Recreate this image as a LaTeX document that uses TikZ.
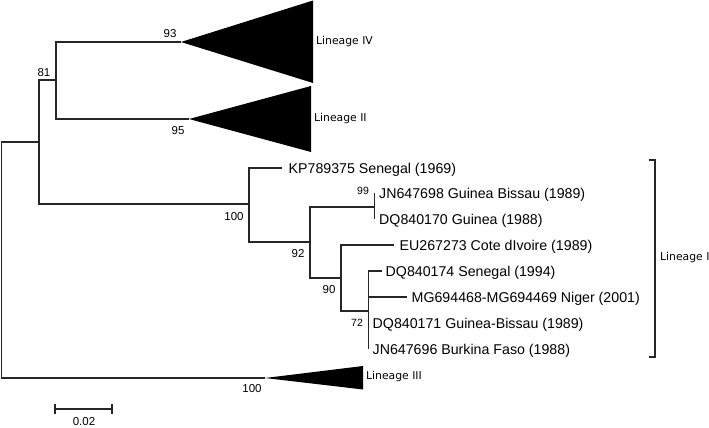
\documentclass[tikz,border=0pt]{standalone}
\usepackage{fontspec}
\setmainfont{Liberation Sans}
\newfontfamily\linfont{DejaVu Sans}
\begin{document}
\begin{tikzpicture}[x=1pt,y=-1pt,
  branch/.style={draw=black!85, line width=1.2pt},
  clade/.style={fill=black},
  leaf/.style={anchor=west, inner sep=0pt, text height=10.2pt, text depth=0pt, font=\fontsize{14.2}{16}\selectfont},
  boot/.style={inner sep=0pt, text height=8.2pt, text depth=0pt, font=\fontsize{11.5}{13}\selectfont},
  bootsm/.style={inner sep=0pt, text height=7.5pt, text depth=0pt, font=\fontsize{10.5}{12}\selectfont},
  lin/.style={anchor=west, inner sep=0pt, font=\linfont\fontsize{10.8}{12}\selectfont}]
\useasboundingbox (0,0) rectangle (709,428);
% internal nodes and tips
\coordinate (root) at (1.5,260);
\coordinate (n81) at (39,142);
\coordinate (n56) at (56,80);
\coordinate (aIV) at (181,42);
\coordinate (aII) at (189,119);
\coordinate (n100) at (249,204);
\coordinate (tKP) at (282,168);
\coordinate (n92) at (310,242);
\coordinate (n99) at (374.5,207);
\coordinate (tJN8) at (374.5,193);
\coordinate (tDQ70) at (374.5,219);
\coordinate (n90) at (341,278);
\coordinate (tEU) at (394,245);
\coordinate (n72) at (368.5,311);
\coordinate (tDQ74) at (382,271);
\coordinate (tMG) at (407,297);
\coordinate (tDQ71) at (368.5,323);
\coordinate (tJN96) at (368.5,349);
\coordinate (aIII) at (265,378);
% collapsed clades
\coordinate (bIVt) at (313,0.5); \coordinate (bIVb) at (313,83);
\coordinate (bIIt) at (311,86); \coordinate (bIIb) at (311,152);
\coordinate (bIIIt) at (363,366); \coordinate (bIIIb) at (363,389.5);
\fill[clade] (aIV) -- (bIVt) -- (bIVb) -- cycle;
\fill[clade] (aII) -- (bIIt) -- (bIIb) -- cycle;
\fill[clade] (aIII) -- (bIIIt) -- (bIIIb) -- cycle;
% branches
\draw[branch] (root) |- (n81);
\draw[branch] (root) |- (aIII);
\draw[branch] (n81) |- (n56);
\draw[branch] (n81) |- (n100);
\draw[branch] (n56) |- (aIV);
\draw[branch] (n56) |- (aII);
\draw[branch] (n100) |- (tKP);
\draw[branch] (n100) |- (n92);
\draw[branch] (n92) |- (n99);
\draw[branch] (n92) |- (n90);
\draw[branch] (n99) -- (tJN8);
\draw[branch] (n99) -- (tDQ70);
\draw[branch] (n90) |- (tEU);
\draw[branch] (n90) |- (n72);
\draw[branch] (n72) |- (tDQ74);
\draw[branch] (n72) |- (tMG);
\draw[branch] (n72) -- (tDQ71);
\draw[branch] (n72) -- (tJN96);
% leaf labels
\node[leaf] (KP) at (288.5,168) {KP789375 Senegal (1969)};
\node[leaf] (JN8) at (379,193) {JN647698 Guinea Bissau (1989)};
\node[leaf] (DQ70) at (379,219) {DQ840170 Guinea (1988)};
\node[leaf] (EU) at (399.5,245) {EU267273 Cote dIvoire (1989)};
\node[leaf] (DQ74) at (385.5,271) {DQ840174 Senegal (1994)};
\node[leaf] (MG) at (411.5,297) {MG694468-MG694469 Niger (2001)};
\node[leaf] (DQ71) at (372.5,323) {DQ840171 Guinea-Bissau (1989)};
\node[leaf] (JN96) at (372.5,349) {JN647696 Burkina Faso (1988)};
% lineage labels
\node[lin] (lIV) at (316,42) {Lineage IV};
\node[lin] (lII) at (314,118.5) {Lineage II};
\node[lin] (lIII) at (366,377) {Lineage III};
% bracket
\coordinate (bt0) at (649,160); \coordinate (bt) at (655,160);
\coordinate (bb) at (655,357); \coordinate (bb0) at (649,357);
\draw[branch] (bt0) -- (bt) -- (bb) -- (bb0);
\node[lin] (lI) at (660,258) {Lineage I};
% bootstrap values
\node[boot] (b93) at (170,33) {93};
\node[boot] (b95) at (178,130) {95};
\node[boot] (b81) at (44,72) {81};
\node[boot] (b100a) at (234,216) {100};
\node[bootsm] (b99) at (363,191) {99};
\node[boot] (b92) at (298,253) {92};
\node[boot] (b90) at (329,289) {90};
\node[bootsm] (b72) at (357,323) {72};
\node[boot] (b100b) at (252,388) {100};
% scale bar
\coordinate (s1) at (55,409); \coordinate (s2) at (112,409);
\coordinate (s1t) at (55,404); \coordinate (s1b) at (55,414);
\coordinate (s2t) at (112,404); \coordinate (s2b) at (112,414);
\draw[branch] (s1) -- (s2);
\draw[branch] (s1t) -- (s1b);
\draw[branch] (s2t) -- (s2b);
\node[boot] (sl) at (84,421) {0.02};
\end{tikzpicture}
\end{document}
